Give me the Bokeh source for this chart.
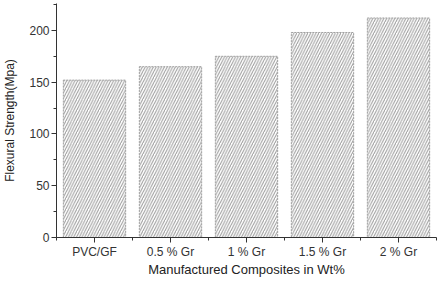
from bokeh.plotting import figure
from bokeh.models import FixedTicker, SingleIntervalTicker, Range1d
from bokeh.embed import file_html
from bokeh.resources import INLINE

categories = ["PVC/GF", "0.5 % Gr", "1 % Gr", "1.5 % Gr", "2 % Gr"]
strength = [152, 165, 175, 198, 212]
x_title = "Manufactured Composites in Wt%"
y_title = "Flexural Strength(Mpa)"

x = list(range(len(categories)))

p = figure(width=437, height=279, output_backend="svg", toolbar_location=None,
           x_range=Range1d(-0.5, len(categories) - 0.5), y_range=Range1d(0, 226),
           min_border_left=52, min_border_right=1, min_border_top=3, min_border_bottom=42)
p.outline_line_color = None
p.grid.visible = False

p.vbar(x=x, top=strength, width=0.82, fill_color="white",
       line_color="#a0a0a0", line_dash="2 1", line_width=1,
       hatch_pattern="right_diagonal_line", hatch_color="#9a9a9a",
       hatch_scale=5.5, hatch_weight=1)

p.xaxis.ticker = FixedTicker(ticks=x, minor_ticks=[i - 0.5 for i in range(len(categories) + 1)])
p.xaxis.major_label_overrides = {i: c for i, c in zip(x, categories)}
p.yaxis.ticker = SingleIntervalTicker(interval=50, num_minor_ticks=2)

for ax in (p.xaxis[0], p.yaxis[0]):
    ax.axis_line_color = "#333333"
    ax.major_tick_line_color = "#333333"
    ax.minor_tick_line_color = "#333333"
    ax.major_tick_out = 5
    ax.major_tick_in = 0
    ax.minor_tick_out = 3
    ax.minor_tick_in = 0
    ax.major_label_text_font = "Liberation Sans"
    ax.major_label_text_font_size = "12px"
    ax.major_label_text_color = "#333333"
    ax.axis_label_text_font = "Liberation Sans"
    ax.axis_label_text_font_style = "normal"
    ax.axis_label_text_color = "#222222"

p.xaxis.axis_label = x_title
p.xaxis.axis_label_text_font_size = "13px"
p.xaxis.major_label_standoff = 2
p.xaxis.axis_label_standoff = 0
p.yaxis.axis_label = y_title
p.yaxis.axis_label_text_font_size = "12px"
p.yaxis.major_label_standoff = 2
p.yaxis.axis_label_standoff = 9

open("out.html", "w").write(file_html(p, INLINE))
